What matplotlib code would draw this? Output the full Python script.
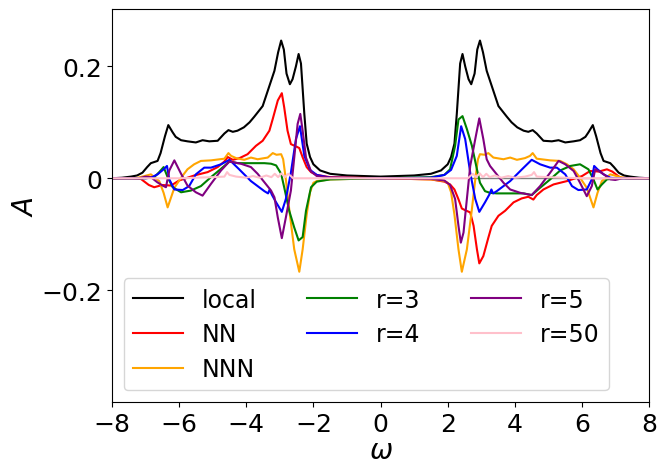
import numpy as np
import matplotlib
matplotlib.use("Agg")
import matplotlib.pyplot as plt

# spectral function components vs frequency
w_local = [-8.0, -7.7, -7.43, -7.25, -7.09, -6.95, -6.84, -6.64, -6.55, -6.42, -6.32, -6.19, -6.1,
           -5.94, -5.75, -5.5, -5.3, -5.1, -4.85, -4.65, -4.53, -4.4, -4.26, -4.07, -3.9, -3.76,
           -3.51, -3.31, -3.16, -3.05, -2.96, -2.88, -2.8, -2.7, -2.62, -2.52, -2.44, -2.37, -2.32,
           -2.27, -2.2, -2.1, -2.0, -1.8, -1.5, -1.0, 0.0,
           1.0, 1.5, 1.8, 2.0, 2.1, 2.2, 2.27, 2.32, 2.37, 2.44, 2.52, 2.62, 2.7, 2.8, 2.88, 2.96,
           3.05, 3.16, 3.31, 3.51, 3.76, 3.9, 4.07, 4.26, 4.4, 4.53, 4.65, 4.85, 5.1, 5.3, 5.5,
           5.75, 5.94, 6.1, 6.19, 6.32, 6.42, 6.55, 6.64, 6.84, 6.95, 7.09, 7.25, 7.43, 7.7, 8.0]
a_local = [0.0, 0.001, 0.003, 0.005, 0.010, 0.020, 0.027, 0.031, 0.045, 0.075, 0.095, 0.082, 0.074,
           0.068, 0.066, 0.064, 0.068, 0.066, 0.067, 0.080, 0.086, 0.083, 0.085, 0.091, 0.100, 0.110,
           0.129, 0.165, 0.192, 0.225, 0.246, 0.230, 0.187, 0.168, 0.177, 0.200, 0.222, 0.205, 0.160,
           0.115, 0.062, 0.038, 0.025, 0.014, 0.008, 0.005, 0.003,
           0.005, 0.008, 0.014, 0.025, 0.038, 0.062, 0.115, 0.160, 0.205, 0.222, 0.200, 0.177, 0.168,
           0.187, 0.230, 0.246, 0.225, 0.192, 0.165, 0.129, 0.110, 0.100, 0.091, 0.085, 0.083, 0.086,
           0.080, 0.067, 0.066, 0.068, 0.064, 0.066, 0.068, 0.074, 0.082, 0.095, 0.075, 0.045, 0.031,
           0.027, 0.020, 0.010, 0.005, 0.003, 0.001, 0.0]

w_nn = [-8.0, -7.4, -7.14, -6.9, -6.74, -6.5, -6.24, -6.0, -5.85, -5.55, -5.15, -4.85, -4.65, -4.55,
        -4.4, -4.2, -3.96, -3.71, -3.51, -3.31, -3.21, -3.06, -2.94, -2.87, -2.77, -2.67, -2.52,
        -2.42, -2.32, -2.2, -2.07, -1.9, -1.5, 0.0,
        1.5, 1.9, 2.07, 2.2, 2.32, 2.42, 2.52, 2.67, 2.77, 2.87, 2.94, 3.06, 3.21, 3.31, 3.51, 3.71,
        3.96, 4.2, 4.4, 4.55, 4.65, 4.85, 5.15, 5.55, 5.85, 6.0, 6.24, 6.5, 6.74, 6.9, 7.14, 7.4, 8.0]
a_nn = [0.0, 0.0, -0.001, -0.012, -0.016, -0.012, -0.013, -0.004, -0.001, 0.005, 0.011, 0.020, 0.030,
        0.038, 0.033, 0.036, 0.043, 0.058, 0.067, 0.085, 0.106, 0.139, 0.152, 0.127, 0.085, 0.061,
        0.057, 0.054, 0.0375, 0.020, 0.011, 0.006, 0.002, 0.0,
        -0.002, -0.006, -0.011, -0.020, -0.0375, -0.054, -0.057, -0.061, -0.085, -0.127, -0.152,
        -0.139, -0.106, -0.085, -0.067, -0.058, -0.043, -0.036, -0.033, -0.038, -0.030, -0.020,
        -0.011, -0.005, 0.001, 0.004, 0.013, 0.012, 0.016, 0.012, 0.001, 0.0, 0.0]

w_nnn = [-8.0, -7.3, -7.09, -6.84, -6.59, -6.46, -6.34, -6.14, -5.94, -5.75, -5.55, -5.35, -5.05,
         -4.65, -4.53, -4.45, -4.3, -4.06, -3.86, -3.66, -3.36, -3.21, -3.1, -2.96, -2.90, -2.82,
         -2.72, -2.57, -2.42, -2.32, -2.2, -2.1, -2.0, -1.9, -1.5, 0.0,
         1.5, 1.9, 2.0, 2.1, 2.2, 2.32, 2.42, 2.57, 2.72, 2.82, 2.90, 2.96, 3.1, 3.21, 3.36, 3.66,
         3.86, 4.06, 4.3, 4.45, 4.53, 4.65, 5.05, 5.35, 5.55, 5.75, 5.94, 6.14, 6.34, 6.46, 6.59,
         6.84, 7.09, 7.3, 8.0]
a_nnn = [0.0, 0.0, 0.003, 0.007, -0.005, -0.026, -0.052, -0.017, 0.001, 0.016, 0.025, 0.031, 0.032,
         0.035, 0.045, 0.040, 0.036, 0.033, 0.037, 0.034, 0.037, 0.045, 0.042, 0.043, 0.034, -0.002,
         -0.055, -0.127, -0.167, -0.127, -0.065, -0.025, -0.008, -0.005, -0.002, 0.0,
         -0.002, -0.005, -0.008, -0.025, -0.065, -0.127, -0.167, -0.127, -0.055, -0.002, 0.034,
         0.043, 0.042, 0.045, 0.037, 0.034, 0.037, 0.033, 0.036, 0.040, 0.045, 0.035, 0.032, 0.031,
         0.025, 0.016, 0.001, -0.017, -0.052, -0.026, -0.005, 0.007, 0.003, 0.0, 0.0]

w_r3 = [-8.0, -7.0, -6.74, -6.59, -6.46, -6.34, -6.19, -5.94, -5.65, -5.35, -5.05, -4.75, -4.5,
        -4.26, -3.86, -3.46, -3.26, -3.11, -2.96, -2.87, -2.72, -2.57, -2.44, -2.32, -2.22, -2.07,
        -1.9, -1.5, 0.0,
        1.5, 1.9, 2.07, 2.22, 2.32, 2.44, 2.57, 2.72, 2.87, 2.96, 3.11, 3.26, 3.46, 3.86, 4.26, 4.5,
        4.75, 5.05, 5.35, 5.65, 5.94, 6.19, 6.34, 6.46, 6.59, 6.74, 7.0, 8.0]
a_r3 = [0.0, 0.0, 0.002, 0.011, 0.020, 0.002, -0.016, -0.025, -0.022, -0.014, 0.002, 0.017, 0.030,
        0.027, 0.027, 0.027, 0.026, 0.023, 0.008, -0.016, -0.058, -0.088, -0.111, -0.105, -0.058,
        -0.016, -0.006, -0.002, 0.0,
        0.002, 0.006, 0.016, 0.058, 0.105, 0.111, 0.088, 0.058, 0.016, -0.008, -0.023, -0.026,
        -0.027, -0.027, -0.027, -0.030, -0.017, -0.002, 0.014, 0.022, 0.025, 0.016, -0.002, -0.020,
        -0.011, -0.002, 0.0, 0.0]

w_r4 = [-8.0, -7.0, -6.84, -6.64, -6.46, -6.36, -6.29, -6.14, -5.89, -5.70, -5.50, -5.25, -5.05,
        -4.75, -4.50, -4.21, -3.86, -3.46, -3.35, -3.30, -3.24, -3.11, -2.94, -2.82, -2.67, -2.52,
        -2.40, -2.27, -2.1, -1.9, -1.5, 0.0,
        1.5, 1.9, 2.1, 2.27, 2.40, 2.52, 2.67, 2.82, 2.94, 3.11, 3.24, 3.30, 3.35, 3.46, 3.86, 4.21,
        4.50, 4.75, 5.05, 5.25, 5.50, 5.70, 5.89, 6.14, 6.29, 6.36, 6.46, 6.64, 6.84, 7.0, 8.0]
a_r4 = [0.0, 0.0, 0.001, 0.007, 0.016, 0.022, -0.002, -0.020, -0.021, -0.014, 0.007, 0.019, 0.019,
        0.025, 0.033, 0.016, -0.005, -0.023, -0.027, -0.020, -0.029, -0.043, -0.060, -0.037, 0.010,
        0.070, 0.093, 0.040, 0.015, 0.006, 0.001, 0.0,
        0.001, 0.006, 0.015, 0.040, 0.093, 0.070, 0.010, -0.037, -0.060, -0.043, -0.029, -0.020,
        -0.027, -0.023, -0.005, 0.016, 0.033, 0.025, 0.019, 0.019, 0.007, -0.014, -0.021, -0.020,
        -0.002, 0.022, 0.016, 0.007, 0.001, 0.0, 0.0]

w_r5 = [-8.0, -7.2, -6.99, -6.84, -6.65, -6.49, -6.39, -6.29, -6.14, -5.94, -5.75, -5.50, -5.30,
        -5.05, -4.75, -4.50, -4.16, -3.86, -3.66, -3.46, -3.26, -3.16, -3.06, -2.94, -2.82, -2.67,
        -2.57, -2.47, -2.39, -2.32, -2.22, -2.07, -1.9, -1.5, 0.0,
        1.5, 1.9, 2.07, 2.22, 2.32, 2.39, 2.47, 2.57, 2.67, 2.82, 2.94, 3.06, 3.16, 3.26, 3.46, 3.66,
        3.86, 4.16, 4.50, 4.75, 5.05, 5.30, 5.50, 5.75, 5.94, 6.14, 6.29, 6.39, 6.49, 6.65, 6.84,
        6.99, 7.2, 8.0]
a_r5 = [0.0, 0.0, 0.003, 0.002, -0.007, -0.013, -0.016, 0.014, 0.032, 0.008, -0.013, -0.025, -0.031,
        -0.010, 0.014, 0.030, 0.026, 0.020, 0.008, -0.007, -0.022, -0.034, -0.070, -0.107, -0.070,
        -0.022, 0.037, 0.097, 0.115, 0.085, 0.037, 0.012, 0.004, 0.001, 0.0,
        -0.001, -0.004, -0.012, -0.037, -0.085, -0.115, -0.097, -0.037, 0.022, 0.070, 0.107, 0.070,
        0.034, 0.022, 0.007, -0.008, -0.020, -0.026, -0.030, -0.014, 0.010, 0.031, 0.025, 0.013,
        -0.008, -0.032, -0.014, 0.016, 0.013, 0.007, -0.002, -0.003, 0.0, 0.0]

w_r50 = [-8.0, -6.0, -5.5, -5.0, -4.65, -4.57, -4.5, -4.3, -4.0, -3.8, -3.6, -3.4, -3.25, -3.15,
         -3.05, -2.95, -2.85, -2.75, -2.6, 0.0,
         2.6, 2.75, 2.85, 2.95, 3.05, 3.15, 3.25, 3.4, 3.6, 3.8, 4.0, 4.3, 4.5, 4.57, 4.65, 5.0,
         5.5, 6.0, 8.0]
a_r50 = [0.0, 0.0, 0.001, 0.002, 0.003, 0.011, 0.006, 0.003, 0.001, 0.004, 0.001, 0.005, 0.002,
         0.008, 0.002, 0.009, 0.002, 0.008, 0.0, 0.0,
         0.0, 0.008, 0.002, 0.009, 0.002, 0.008, 0.002, 0.005, 0.001, 0.004, 0.001, 0.003, 0.006,
         0.011, 0.003, 0.002, 0.001, 0.0, 0.0]

# faint zero reference underneath
w_zero = [2.7, 6.9]
a_zero = [0.0, 0.0]

series = [
    (w_local, a_local, 'black', 'local'),
    (w_nn, a_nn, 'red', 'NN'),
    (w_nnn, a_nnn, 'orange', 'NNN'),
    (w_r3, a_r3, 'green', 'r=3'),
    (w_r4, a_r4, 'blue', 'r=4'),
    (w_r5, a_r5, 'purple', 'r=5'),
    (w_r50, a_r50, 'pink', 'r=50'),
]

fig = plt.figure(figsize=(6.7, 4.64), dpi=100)
ax = fig.add_axes([0.167, 0.131, 0.802, 0.847])

ax.plot(w_zero, a_zero, color='gray', lw=1.0)
for w, a, c, lab in series:
    ax.plot(w, a, color=c, lw=1.5, label=lab)

ax.set_xlim(-8, 8)
ax.set_ylim(-0.4, 0.302)
ax.set_xticks(np.arange(-8, 9, 2))
ax.set_yticks([-0.2, 0.0, 0.2])
ax.set_yticklabels(['\u22120.2', '0', '0.2'])
ax.tick_params(labelsize=18)
ax.set_xlabel(r'$\omega$', fontsize=20, labelpad=0)
ax.set_ylabel(r'$A$', fontsize=20, labelpad=2)
ax.legend(loc='lower left', ncol=3, fontsize=17, handlelength=2.1,
          columnspacing=2.15, labelspacing=0.45)

plt.savefig('out.png', dpi=100)
